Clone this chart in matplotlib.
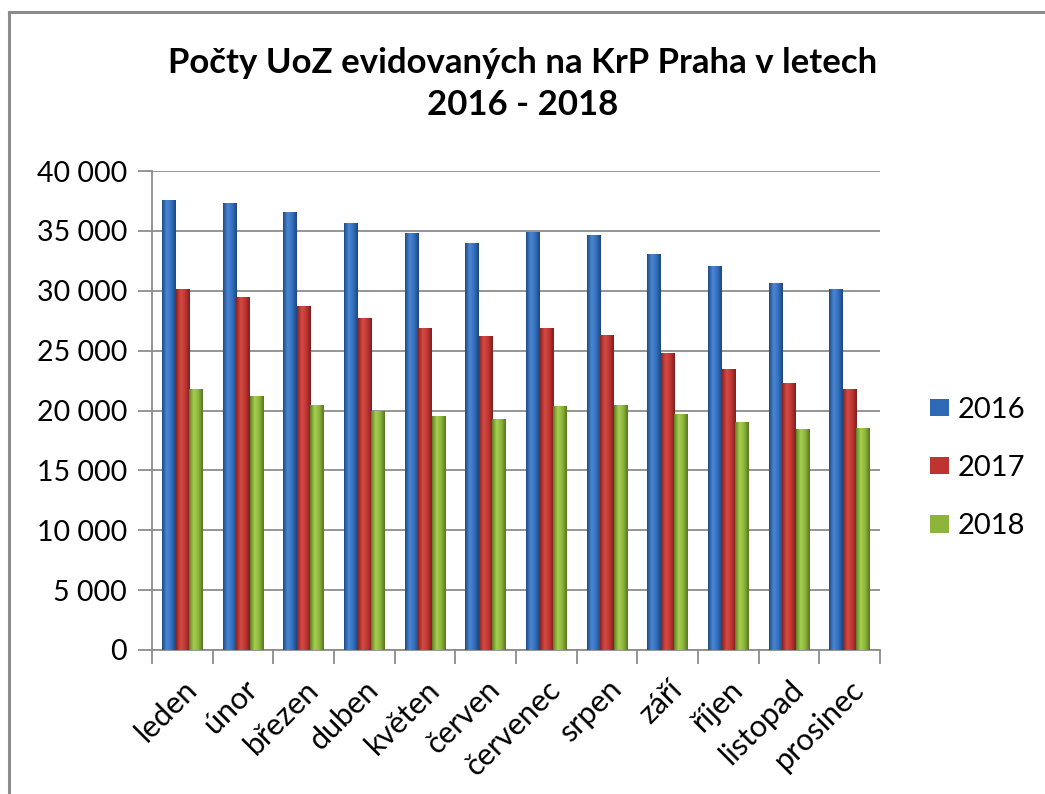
import numpy as np
import matplotlib
matplotlib.use("Agg")
import matplotlib.pyplot as plt
from matplotlib.lines import Line2D
from matplotlib.colors import LinearSegmentedColormap
from matplotlib.ticker import FuncFormatter, FixedLocator

# --- data ---
months = ["leden", "únor", "březen", "duben", "květen", "červen",
          "červenec", "srpen", "září", "říjen", "listopad", "prosinec"]
v2016 = [37580, 37350, 36550, 35690, 34800, 34020, 34880, 34630, 33070, 32070, 30650, 30170]
v2017 = [30150, 29500, 28750, 27700, 26920, 26250, 26920, 26300, 24830, 23440, 22270, 21770]
v2018 = [21770, 21240, 20460, 19960, 19570, 19320, 20350, 20460, 19710, 19040, 18430, 18540]
years = ["2016", "2017", "2018"]

plt.rcParams['font.family'] = ['Lato', 'DejaVu Sans']

fig = plt.figure(figsize=(10.45, 7.94), dpi=100)
ax = fig.add_axes([152/1045, 1 - 650/794, (880-152)/1045, (650-171)/794])

# outer chart border (only left and top edges are visible in the crop)
fig.add_artist(Line2D([9/1045, 9/1045], [0, 1 - 12/794], transform=fig.transFigure,
                      color="#8c8c8c", linewidth=2.2))
fig.add_artist(Line2D([9/1045, 1], [1 - 12/794, 1 - 12/794], transform=fig.transFigure,
                      color="#8c8c8c", linewidth=2.2))

x = np.arange(len(months))
w = 0.225
colors = ["#2F68B4", "#BE3430", "#8DB53C"]
shades = [["#1E4C86", "#4A86D2", "#3370BE", "#1C467E"],
          ["#8A2220", "#D44A44", "#C03632", "#7E1F1D"],
          ["#5E7E22", "#A6CF50", "#8DB53C", "#587620"]]
grad = np.linspace(0, 1, 64).reshape(1, -1)
for i, (vals, c) in enumerate(zip([v2016, v2017, v2018], colors)):
    bars = ax.bar(x + (i - 1) * w, vals, width=w, color=c, linewidth=0,
                  label=years[i], zorder=3)
    cmap = LinearSegmentedColormap.from_list(f"g{i}", shades[i])
    for b in bars:
        x0, y0 = b.get_x(), b.get_y()
        im = ax.imshow(grad, cmap=cmap, aspect="auto", zorder=3.5,
                       extent=(x0, x0 + b.get_width(), y0, y0 + b.get_height()))
        im.set_clip_path(b)

ax.set_xlim(-0.5, len(months) - 0.5)
ax.set_ylim(0, 40000)
ax.set_yticks(range(0, 40001, 5000))
ax.yaxis.set_major_formatter(FuncFormatter(lambda v, p: f"{int(v):,}".replace(",", " ")))
ax.grid(axis="y", color="#8c8c8c", linewidth=1.3, zorder=0)

ax.set_xticks(x)
ax.set_xticklabels(months, rotation=45, ha="right", rotation_mode="anchor", fontsize=22)
ax.xaxis.set_minor_locator(FixedLocator(np.arange(-0.5, len(months), 1)))
ax.tick_params(axis="x", which="major", length=0, pad=18)
ax.tick_params(axis="x", which="minor", length=10, color="#8c8c8c", width=1.3)
ax.tick_params(axis="y", labelsize=20.5, length=10, color="#8c8c8c", width=1.3, pad=8)

for s in ["top", "right"]:
    ax.spines[s].set_visible(False)
for s in ["left", "bottom"]:
    ax.spines[s].set_color("#8c8c8c")
    ax.spines[s].set_linewidth(1.3)

fig.text(0.5, 1 - 84/794, "Počty UoZ evidovaných na KrP Praha v letech\n2016 - 2018",
         ha="center", va="center", fontsize=25, fontweight="bold", linespacing=1.35)

leg = ax.legend(loc="center left", bbox_to_anchor=(1.032, 0.38), frameon=False, fontsize=21,
                handlelength=0.65, handleheight=0.55, labelspacing=1.1, handletextpad=0.3)

fig.savefig("out.png", dpi=100)
